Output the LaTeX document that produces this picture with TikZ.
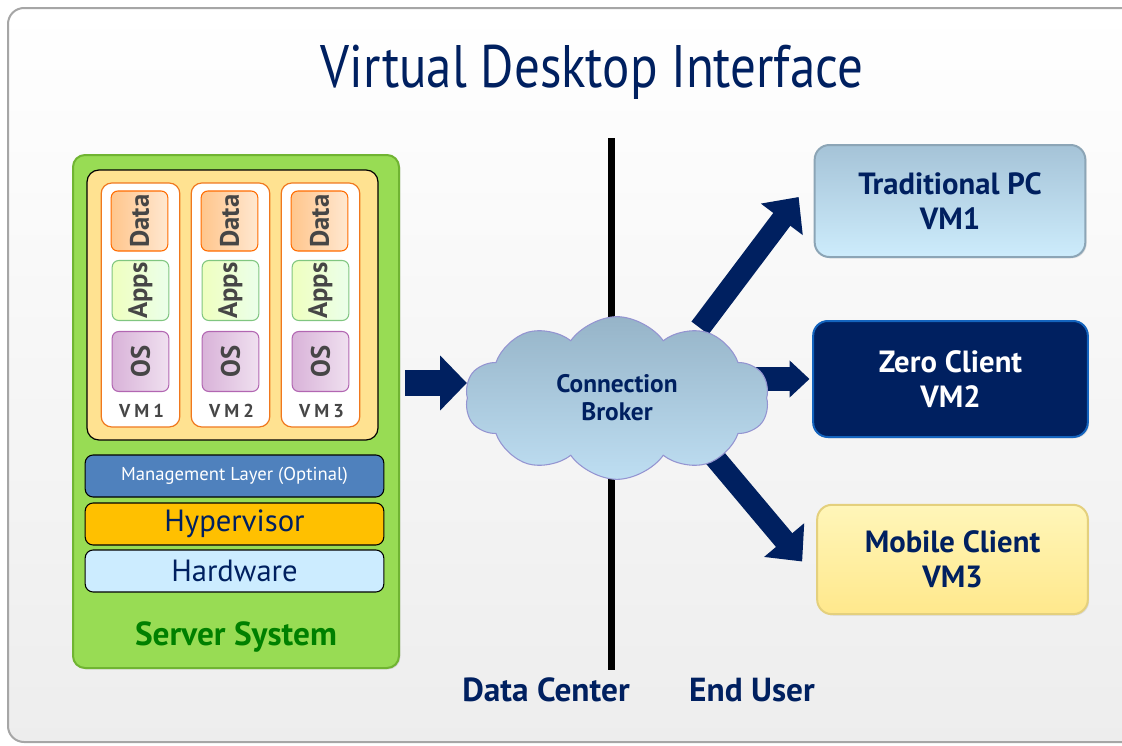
\documentclass[tikz,border=0pt]{standalone}
\usepackage{fontspec}
\setmainfont{PT Sans}
\newfontfamily\titlefont[FakeStretch=0.85]{PT Sans}
\usetikzlibrary{arrows.meta, shapes.symbols, shadows, calc}

\definecolor{navy}{RGB}{0,32,96}
\definecolor{srvgreen}{RGB}{152,220,84}
\definecolor{srvedge}{RGB}{112,180,50}
\definecolor{vmyellow}{RGB}{255,226,145}
\definecolor{vmedge}{RGB}{240,120,30}
\definecolor{mgmtblue}{RGB}{79,129,189}
\definecolor{hypgold}{RGB}{255,192,0}
\definecolor{hwblue}{RGB}{204,236,255}
\definecolor{labelgreen}{RGB}{0,128,0}
\definecolor{partgray}{RGB}{70,70,70}

\pgfdeclarelayer{back}
\pgfdeclarelayer{mid}
\pgfsetlayers{back,mid,main}

\tikzset{
  layerbox/.style={draw=black, line width=0.8pt, rounded corners=6pt,
    minimum width=224pt, minimum height=31.5pt},
  vmcol/.style={draw=vmedge, fill=white, line width=0.9pt, rounded corners=8pt,
    minimum width=59pt, minimum height=183pt},
  part/.style={rotate=90, line width=0.8pt, rounded corners=5pt,
    minimum width=45pt, minimum height=42.5pt, text=partgray, inner sep=1pt,
    font=\fontsize{20}{20}\selectfont\bfseries},
  client/.style={line width=1.5pt, rounded corners=11pt, align=center,
    minimum width=203pt, minimum height=84pt,
    font=\fontsize{23}{26}\selectfont\bfseries,
    drop shadow={opacity=0.2, shadow xshift=1pt, shadow yshift=-1pt}},
  fatarrow/.style={draw=navy, line width=16pt, -{Triangle[length=21pt, width=38pt]}},
}

\begin{document}
\begin{tikzpicture}[x=0.75pt, y=-0.75pt]
\useasboundingbox (0,0) rectangle (1122,746);

% Frame
\begin{pgfonlayer}{back}
\draw[draw=gray!70, line width=1.5pt, rounded corners=12pt, top color=white, bottom color=gray!14]
  (8,8) rectangle (1150,742);
\end{pgfonlayer}

% Title
\node[text=navy, font=\titlefont\fontsize{45}{45}\selectfont] (title) at (592,72) {Virtual Desktop Interface};

% Server System
\node[draw=srvedge, line width=1.5pt, rounded corners=9pt, fill=srvgreen,
  minimum width=244.5pt, minimum height=384.75pt,
  drop shadow={opacity=0.25, shadow xshift=1pt, shadow yshift=-1pt}] (server) at (236,411.5) {};
\node[draw=black, line width=0.9pt, rounded corners=9pt, fill=vmyellow,
  minimum width=218.25pt, minimum height=202.5pt] (vmpool) at (232.5,305) {};

% Virtual machines
\foreach \i/\x in {1/140.5, 2/230.5, 3/320.5} {
  \node[vmcol] (vm\i) at (\x,305) {};
  \node[part, draw=orange!85!red, left color=orange!45, right color=orange!18] (data\i) at (\x-1,221) {Data};
  \node[part, draw=green!55!black!50, left color=green!25!yellow!25, right color=green!8] (apps\i) at (\x,290.5) {Apps};
  \node[part, draw=violet!60, left color=violet!30, right color=violet!12] (os\i) at (\x,361.5) {OS};
  \node[text=partgray, font=\fontsize{14}{14}\selectfont\bfseries\addfontfeature{LetterSpace=22}] (vmlabel\i) at (\x+1,411) {VM\i};
}

% Layers
\node[layerbox, fill=mgmtblue, text=white, font=\fontsize{14}{14}\selectfont] (mgmt) at (234.5,476) {Management Layer (Optinal)};
\node[layerbox, fill=hypgold, text=navy, font=\fontsize{23}{23}\selectfont] (hyper) at (234.5,524) {Hypervisor};
\node[layerbox, fill=hwblue, text=navy, font=\fontsize{23}{23}\selectfont] (hw) at (234.5,571) {Hardware};
\node[text=labelgreen, font=\fontsize{25}{25}\selectfont\bfseries] (srvlabel) at (236,637) {Server System};

% Connection Broker
\node[cloud, cloud puffs=10, cloud puff arc=110, aspect=2, draw=gray!60!blue!60, line width=0.8pt,
  minimum width=228pt, minimum height=122pt, top color={rgb,255:red,150;green,180;blue,200},
  bottom color={rgb,255:red,190;green,222;blue,242}, text=navy, align=center,
  font=\fontsize{19}{21}\selectfont\bfseries] (broker) at (617,398) {Connection\\Broker};

% End user devices
\node[client, draw={rgb,255:red,140;green,165;blue,182}, top color={rgb,255:red,165;green,195;blue,215},
  bottom color={rgb,255:red,205;green,236;blue,252}, text=navy] (tpc) at (950,201) {Traditional PC\\VM1};
\node[client, draw={rgb,255:red,20;green,100;blue,190}, fill=navy, text=white,
  minimum width=206pt, minimum height=87pt] (zero) at (950.5,379) {Zero Client\\VM2};
\node[client, draw={rgb,255:red,228;green,208;blue,125}, top color={rgb,255:red,255;green,246;blue,185},
  bottom color={rgb,255:red,255;green,232;blue,140}, text=navy, minimum height=82pt] (mobile) at (952.5,559.5) {Mobile Client\\VM3};

% Divider and arrows
\begin{pgfonlayer}{mid}
\draw[line width=5.25pt] (611,138) coordinate (divtop) -- (611,670) coordinate (divbot);
\coordinate (feed) at (405,383);
\draw[fatarrow, line width=20pt, -{Triangle[length=20pt, width=40pt]}] (feed) -- (feed -| broker.west);
\draw[fatarrow, line width=18pt, -{Triangle[length=15pt, width=27pt]}] (broker.center |- zero.west) -- ([xshift=-2pt]zero.west);
\draw[fatarrow] ($(broker.center)+(83,-70)$) -- ($(tpc.west)+(-15,-4)$);
\draw[fatarrow] ($(broker.center)+(83,42)$) -- ($(mobile.west)+(-14,2)$);
\end{pgfonlayer}

% Zones
\node[text=navy, font=\fontsize{25}{25}\selectfont\bfseries] (dc) at (546,690) {Data Center};
\node[text=navy, font=\fontsize{25}{25}\selectfont\bfseries] (eu) at (752,690) {End User};
\end{tikzpicture}
\end{document}
